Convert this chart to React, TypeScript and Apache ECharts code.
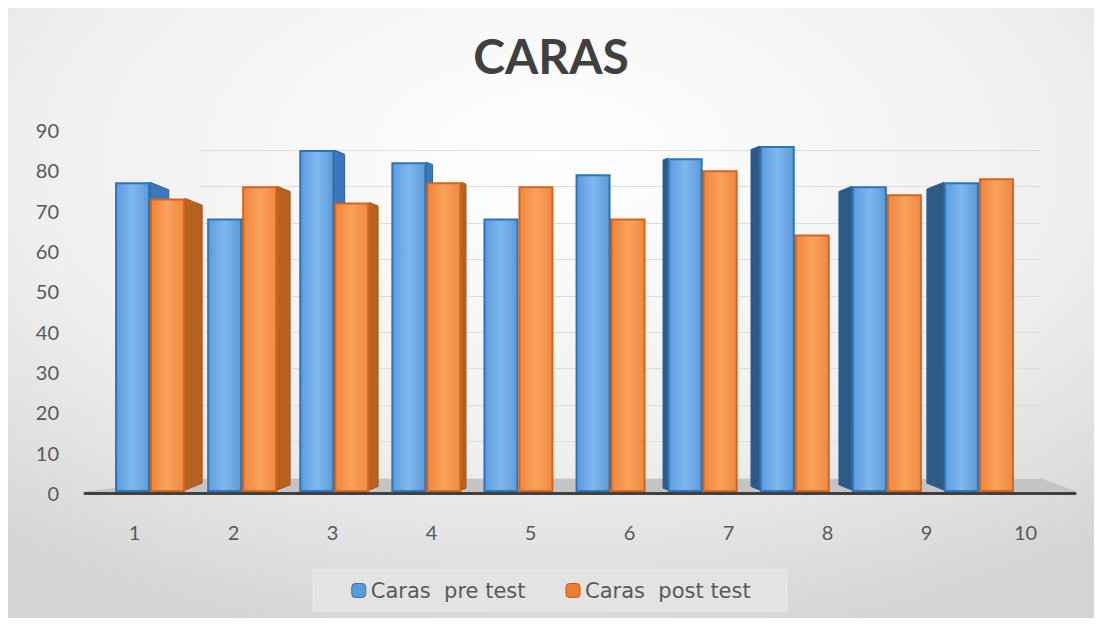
import React, { useEffect, useRef } from "react";
import * as echarts from "echarts";

const categories = ["1", "2", "3", "4", "5", "6", "7", "8", "9", "10"];
const preTest = [77, 68, 85, 82, 68, 79, 83, 86, 76, 77];
const postTest = [73, 76, 72, 77, 76, 68, 80, 64, 74, 78];
const yTicks = [0, 10, 20, 30, 40, 50, 60, 70, 80, 90];

const BAR_W = 35;
const VANISH_X = 565;

export default function App() {
  const ref = useRef<HTMLDivElement>(null);
  useEffect(() => {
    if (!ref.current) return;
    const chart = echarts.init(ref.current, undefined, { renderer: "svg" });
    const font = "Lato, 'Open Sans', sans-serif";
    const blueFill = new echarts.graphic.LinearGradient(0, 0, 1, 0, [
      { offset: 0, color: "#5a9be0" },
      { offset: 0.5, color: "#80b7ef" },
      { offset: 1, color: "#5b9ad8" },
    ]);
    const orangeFill = new echarts.graphic.LinearGradient(0, 0, 1, 0, [
      { offset: 0, color: "#f0863c" },
      { offset: 0.5, color: "#f9a15c" },
      { offset: 1, color: "#ef8a42" },
    ]);

    const sideData: number[][] = [];
    categories.forEach((_, i) => {
      sideData.push([i, preTest[i], 0]);
      sideData.push([i, postTest[i], 1]);
    });

    const renderSide = (params: any, api: any) => {
      const cat = api.value(0);
      const val = api.value(1);
      const which = api.value(2);
      const top = api.coord([cat, val]);
      const bottom = api.coord([cat, 0]);
      const cx = top[0];
      const x0 = which === 0 ? cx - BAR_W : cx;
      const x1 = which === 0 ? cx : cx + BAR_W;
      const yt = top[1];
      const yb = bottom[1] - 2;
      let edge: number;
      let dir: number;
      if (cx < VANISH_X - 60) {
        edge = x1;
        dir = 1;
      } else if (x0 > VANISH_X && !(which === 1 && cat === 9)) {
        edge = x0;
        dir = -1;
      } else {
        return null;
      }
      const d = Math.abs(edge - VANISH_X) * 0.045;
      if (d < 2) return null;
      const s = 0.4;
      const pts = [
        [edge, yt],
        [edge + dir * d, yt + d * s],
        [edge + dir * d, yb - d * s],
        [edge, yb],
      ];
      let fill: string;
      if (which === 0) fill = dir === 1 ? "#3a78bd" : "#2f5a88";
      else fill = dir === 1 ? "#b8621f" : "#c06a28";
      return {
        type: "polygon",
        shape: { points: pts },
        style: { fill, stroke: which === 0 ? "#2a5f9a" : "#a95418", lineWidth: 1 },
      };
    };

    chart.setOption({
      animation: false,
      backgroundColor: new echarts.graphic.RadialGradient(0.5, 0.25, 0.8, [
        { offset: 0, color: "#ffffff" },
        { offset: 0.6, color: "#efefef" },
        { offset: 1, color: "#d4d4d4" },
      ]),
      title: {
        text: "CARAS",
        left: "center",
        top: 26,
        textStyle: { fontFamily: font, fontSize: 48, fontWeight: "bold", color: "#404040" },
      },
      legend: {
        bottom: 15,
        left: "center",
        itemWidth: 14,
        itemHeight: 14,
        itemGap: 40,
        padding: [10, 36, 10, 38],
        backgroundColor: "#e3e3e3",
        borderColor: "#ececec",
        borderWidth: 1,
        textStyle: { fontFamily: "'DejaVu Sans', sans-serif", fontSize: 21, color: "#595959" },
        data: [
          { name: "Caras  pre test", itemStyle: { color: "#5b9bd5", borderColor: "#2e75b6", borderWidth: 1 } },
          { name: "Caras  post test", itemStyle: { color: "#ed7d31", borderColor: "#c55a11", borderWidth: 1 } },
        ],
      },
      graphic: [
        {
          type: "polygon",
          silent: true,
          z: 0,
          shape: { points: [[200, 478], [1040, 478], [1078, 492], [80, 492]] },
          style: { fill: "#c4c4c4" },
        },
      ],
      grid: [
        { left: 104, right: 77, top: 130, bottom: 134 },
        { left: 85, right: 27, top: 130, bottom: 133 },
        { left: 200, right: 62, top: 150, bottom: 148 },
      ],
      xAxis: [
        {
          type: "category",
          gridIndex: 0,
          data: categories,
          axisLine: { show: false },
          axisTick: { show: false },
          axisLabel: { show: false },
        },
        {
          type: "category",
          gridIndex: 1,
          data: categories,
          axisLine: { show: true, lineStyle: { color: "#404040", width: 3 } },
          axisTick: { show: false },
          axisLabel: { fontFamily: font, fontSize: 20, color: "#595959", margin: 29 },
        },
        {
          type: "category",
          gridIndex: 2,
          data: categories,
          show: false,
        },
      ],
      yAxis: [
        { type: "value", gridIndex: 0, min: 0, max: 90, interval: 10, show: false, splitLine: { show: false } },
        {
          type: "value",
          gridIndex: 1,
          min: 0,
          max: 90,
          interval: 10,
          axisLine: { show: false },
          axisTick: { show: false },
          splitLine: { show: false },
          axisLabel: {
            fontFamily: font,
            fontSize: 20,
            color: "#595959",
            margin: 26,
            formatter: (v: number) => (yTicks.includes(v) ? String(v) : ""),
          },
        },
        {
          type: "value",
          gridIndex: 2,
          min: 0,
          max: 90,
          interval: 10,
          axisLine: { show: false },
          axisTick: { show: false },
          axisLabel: { show: false },
          splitLine: { show: true, lineStyle: { color: "#dedede", width: 1 } },
        },
      ],
      series: [
        {
          name: "sides",
          type: "custom",
          xAxisIndex: 0,
          yAxisIndex: 0,
          data: sideData,
          renderItem: renderSide,
          z: 2,
          silent: true,
        },
        {
          name: "Caras  pre test",
          type: "bar",
          xAxisIndex: 0,
          yAxisIndex: 0,
          data: preTest,
          barWidth: BAR_W,
          barGap: "0%",
          z: 3,
          itemStyle: { color: blueFill, borderColor: "#2e75b6", borderWidth: 2 },
        },
        {
          name: "Caras  post test",
          type: "bar",
          xAxisIndex: 0,
          yAxisIndex: 0,
          data: postTest,
          barWidth: BAR_W,
          barGap: "0%",
          z: 3,
          itemStyle: { color: orangeFill, borderColor: "#d2661c", borderWidth: 2 },
        },
      ],
    });
    return () => chart.dispose();
  }, []);
  return <div ref={ref} style={{ width: 1102, height: 626, margin: -8 }} />;
}
